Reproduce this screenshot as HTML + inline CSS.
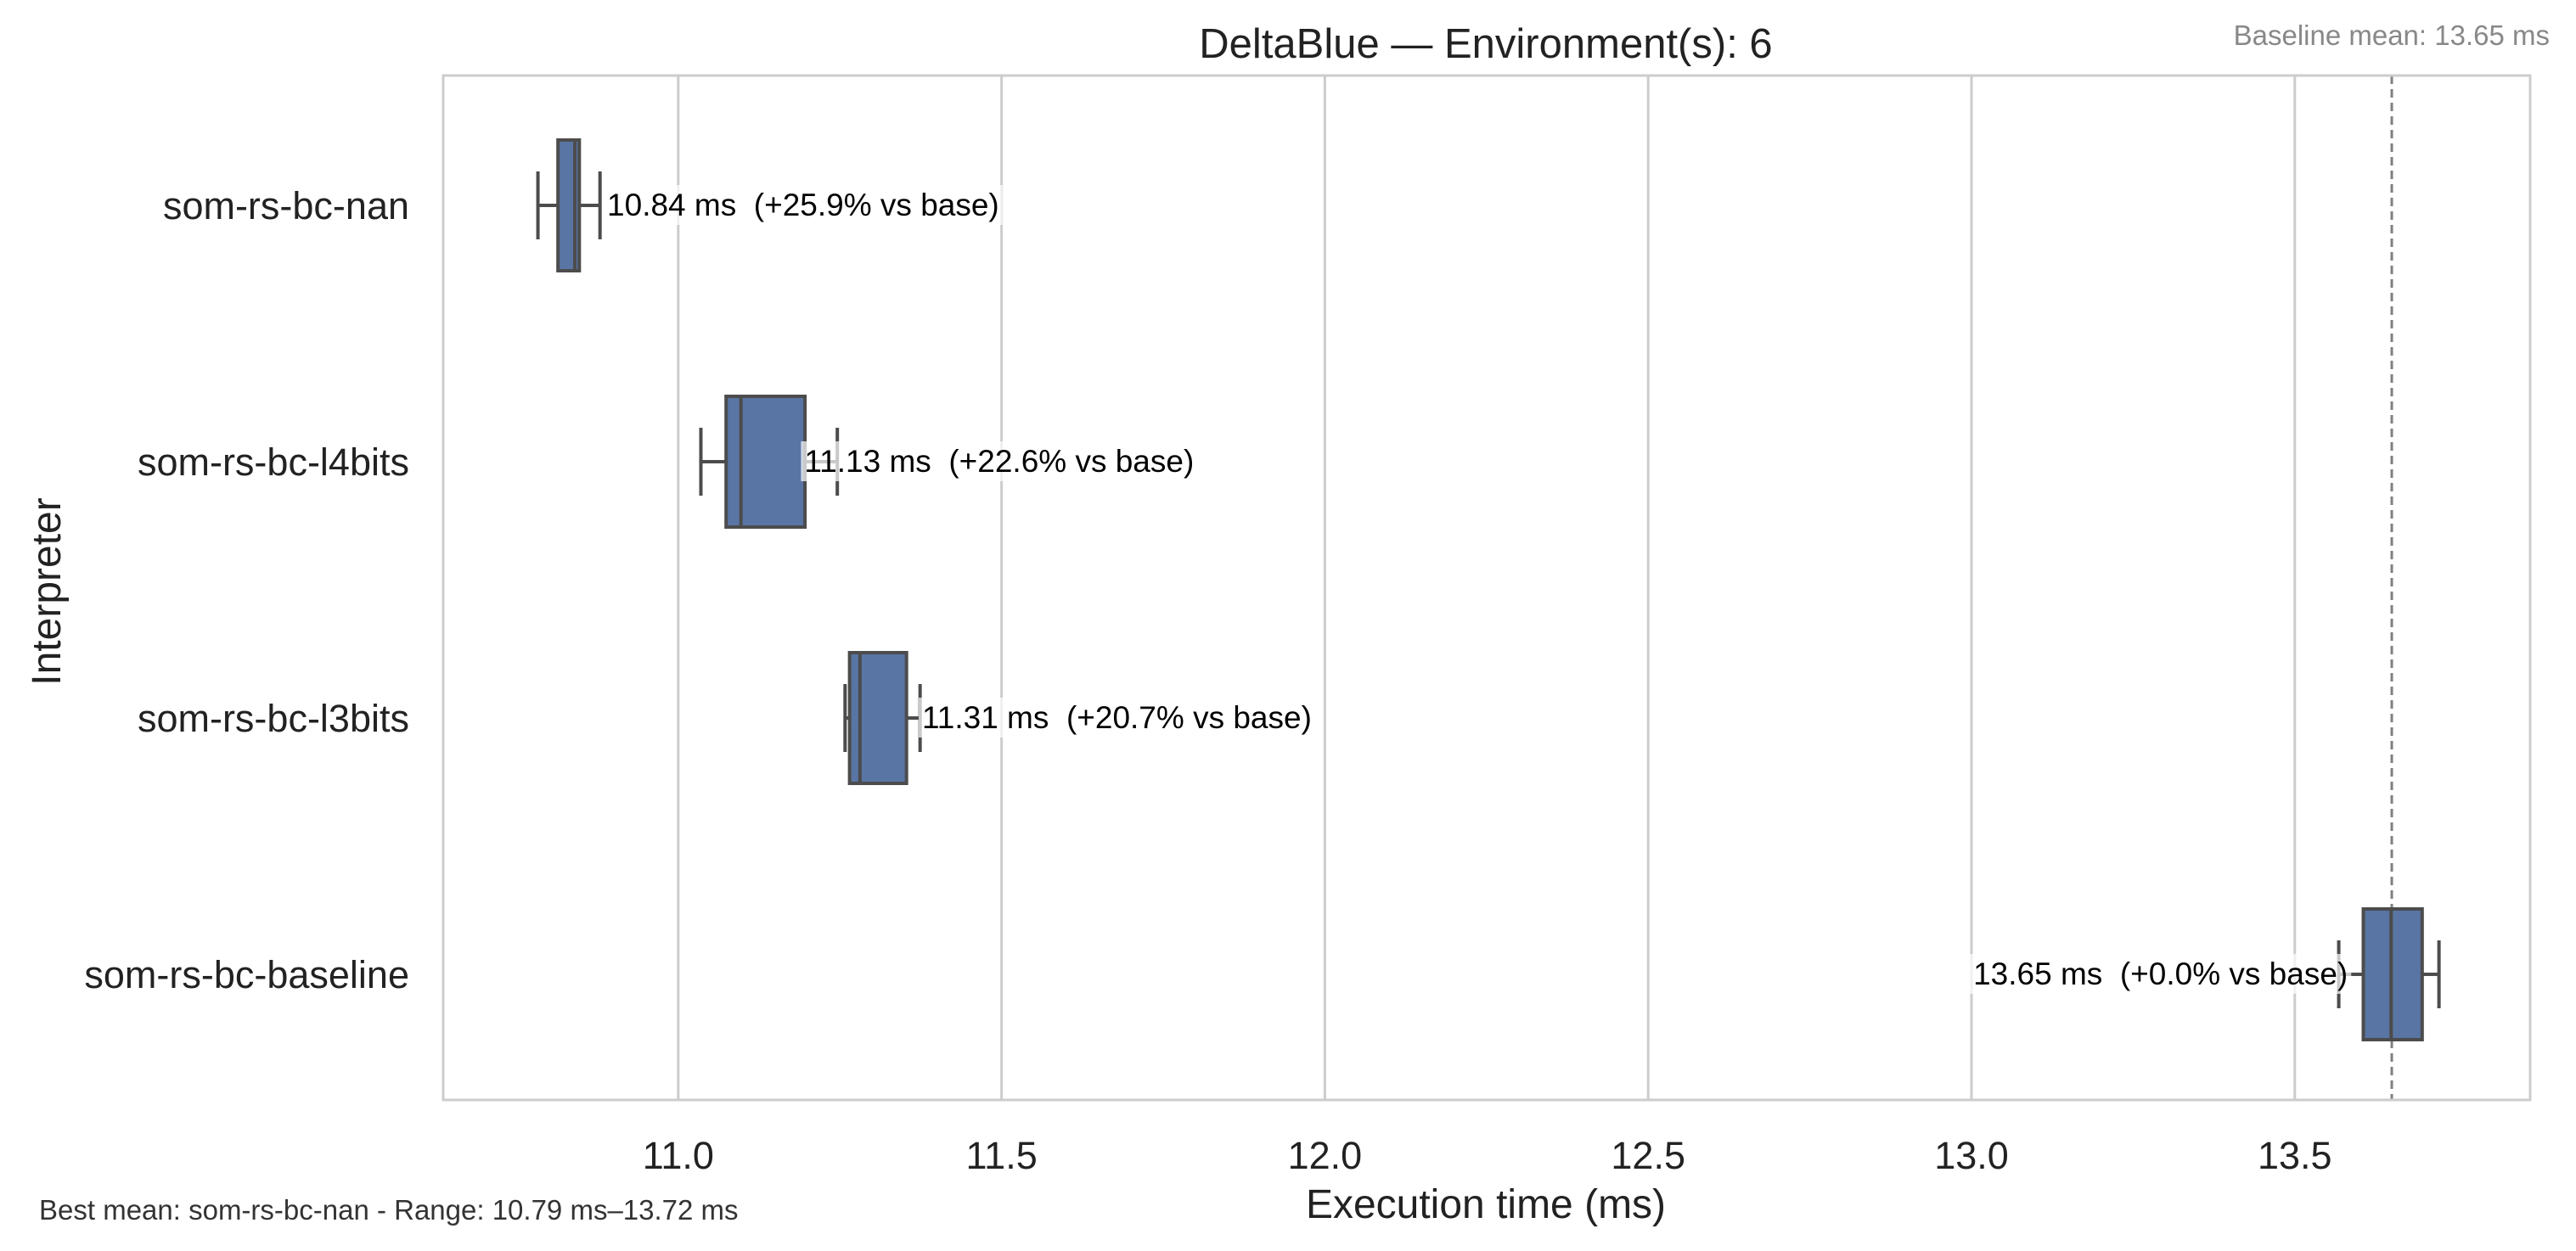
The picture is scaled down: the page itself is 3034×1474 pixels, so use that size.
<!DOCTYPE html>
<html><head><meta charset="utf-8"><style>
html,body{margin:0;padding:0;background:#fff;}
svg{display:block;font-family:"Liberation Sans",Arial,sans-serif;}
</style></head><body>
<svg id="chart" width="3034" height="1474" viewBox="0 0 3034 1474">
<rect width="3034" height="1474" fill="#fff"/>
<g id="grid"></g>
<g id="boxes"></g>
<g id="labels"></g>
<rect x="522" y="89" width="2458" height="1207" fill="none" stroke="#cccccc" stroke-width="3"/>
<g id="yt"></g>
<g id="xt"></g>
<text x="1750" y="68" font-size="49" text-anchor="middle" fill="#222">DeltaBlue — Environment(s): 6</text>
<text x="3003" y="53" font-size="33" text-anchor="end" fill="#888">Baseline mean: 13.65 ms</text>
<text x="1750" y="1435" font-size="48" text-anchor="middle" fill="#222">Execution time (ms)</text>
<text transform="translate(71,697) rotate(-90)" font-size="48" text-anchor="middle" fill="#222">Interpreter</text>
<text x="46" y="1437" font-size="33" fill="#333">Best mean: som-rs-bc-nan - Range: 10.79 ms–13.72 ms</text>
</svg>
<script>
const categories = ["som-rs-bc-nan","som-rs-bc-l4bits","som-rs-bc-l3bits","som-rs-bc-baseline"];
const whiskerLo = [10.783, 11.035, 11.258, 13.568];
const q1 = [10.814, 11.074, 11.265, 13.606];
const medians = [10.840, 11.097, 11.281, 13.649];
const q3 = [10.847, 11.196, 11.353, 13.697];
const whiskerHi = [10.879, 11.246, 11.374, 13.723];
const means = [10.84, 11.13, 11.31, 13.65];
const pctVsBase = ["+25.9", "+22.6", "+20.7", "+0.0"];
const labelAnchor = [10.89, 11.195, 11.377, 13.582];
const xTicks = [11.0, 11.5, 12.0, 12.5, 13.0, 13.5];
const baselineMean = 13.65;

const NS = "http://www.w3.org/2000/svg";
const X0 = 522, X1 = 2980, Y0 = 89, Y1 = 1296, XMIN = 10.6365, XMAX = 13.864;
const x = v => X0 + (v - XMIN) / (XMAX - XMIN) * (X1 - X0);
const y = i => 242 + i * 302;
function mk(tag, attrs, parent) {
  const e = document.createElementNS(NS, tag);
  for (const k in attrs) e.setAttribute(k, attrs[k]);
  parent.appendChild(e);
  return e;
}
const grid = document.getElementById('grid'), boxes = document.getElementById('boxes'),
  labels = document.getElementById('labels'), yt = document.getElementById('yt'), xt = document.getElementById('xt');

xTicks.forEach(t => {
  const l = mk('line', {x1: x(t), x2: x(t), y1: Y0, y2: Y1, stroke: '#cccccc', 'stroke-width': 3}, grid);
  
  
  const tx = mk('text', {x: x(t), y: 1377, 'font-size': 45, 'text-anchor': 'middle', fill: '#222'}, xt);
  tx.textContent = t.toFixed(1);
  
  
});
const bl = mk('line', {x1: x(baselineMean), x2: x(baselineMean), y1: Y0, y2: Y1, stroke: '#808080', 'stroke-width': 3, 'stroke-dasharray': '10,6'}, grid);



const BH = 154, CAP = 40, EC = '#4c4c4c', SW = 4;
categories.forEach((c, i) => {
  const cy = y(i);
  const g = mk('g', {}, boxes);
  
  
  mk('line', {x1: x(whiskerLo[i]), x2: x(q1[i]), y1: cy, y2: cy, stroke: EC, 'stroke-width': SW}, g);
  mk('line', {x1: x(q3[i]), x2: x(whiskerHi[i]), y1: cy, y2: cy, stroke: EC, 'stroke-width': SW}, g);
  mk('line', {x1: x(whiskerLo[i]), x2: x(whiskerLo[i]), y1: cy - CAP, y2: cy + CAP, stroke: EC, 'stroke-width': SW}, g);
  mk('line', {x1: x(whiskerHi[i]), x2: x(whiskerHi[i]), y1: cy - CAP, y2: cy + CAP, stroke: EC, 'stroke-width': SW}, g);
  mk('rect', {x: x(q1[i]), y: cy - BH / 2, width: x(q3[i]) - x(q1[i]), height: BH, fill: '#5975a4', stroke: EC, 'stroke-width': SW}, g);
  mk('line', {x1: x(medians[i]), x2: x(medians[i]), y1: cy - BH / 2, y2: cy + BH / 2, stroke: EC, 'stroke-width': SW}, g);

  const yl = mk('text', {x: 482, y: cy + 16, 'font-size': 45, 'text-anchor': 'end', fill: '#222'}, yt);
  yl.textContent = c;
  
  

  const isBase = i === categories.length - 1;
  const txt = means[i].toFixed(2) + ' ms\u00a0\u00a0(' + pctVsBase[i] + '% vs base)';
  const t = mk('text', {x: x(labelAnchor[i]), y: cy + 12, 'font-size': 37, 'text-anchor': isBase ? 'end' : 'start', fill: '#000'}, labels);
  t.textContent = txt;
  
  
  const bb = t.getBBox();
  const bg = mk('rect', {x: bb.x - 4, y: bb.y - 3, width: bb.width + 8, height: bb.height + 6, fill: '#fff', 'fill-opacity': 0.7}, labels);
  
  
  labels.insertBefore(bg, t);
});
</script>
</body></html>
